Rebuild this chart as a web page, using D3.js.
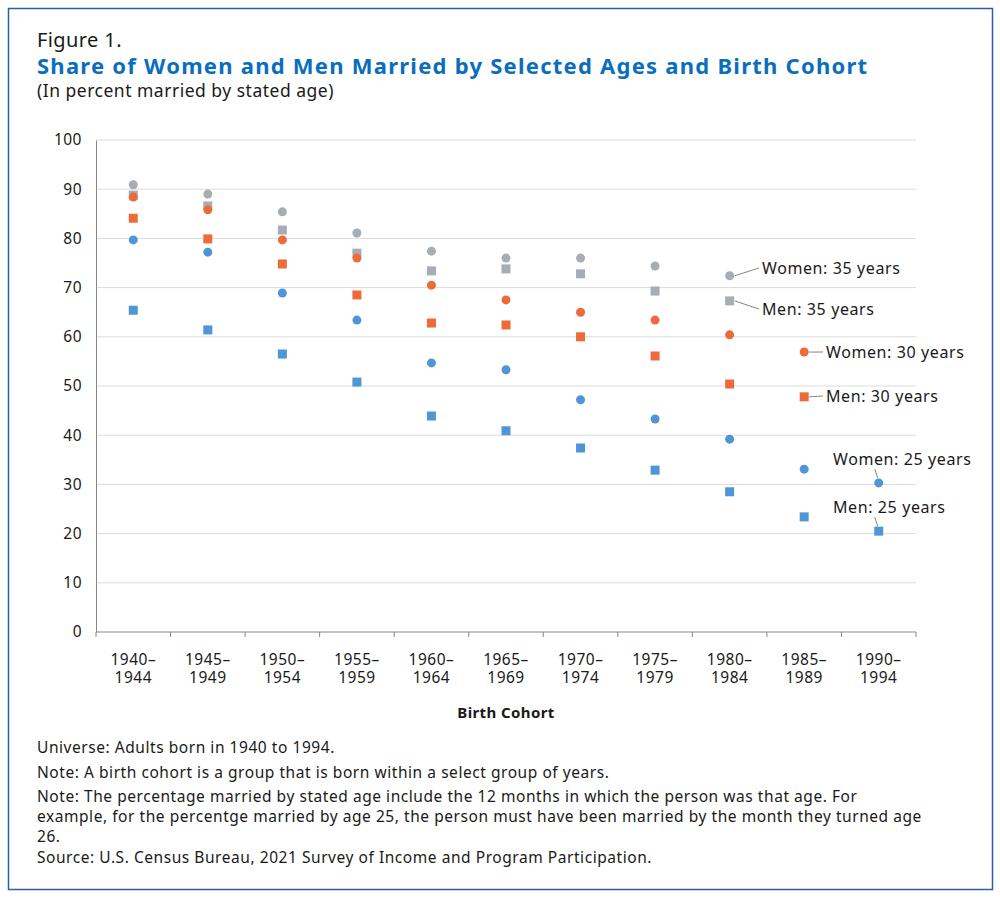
<!DOCTYPE html>
<html><head><meta charset="utf-8">
<script src="https://cdn.jsdelivr.net/npm/d3@7"></script>
<style>
body{margin:0;background:#fff;font-family:"Noto Sans",sans-serif;}
text{font-family:"Noto Sans",sans-serif;fill:#1a1a1a;}
</style></head>
<body><svg width="1000" height="898"></svg>
<script>
var cohorts = ["1940–1944","1945–1949","1950–1954","1955–1959","1960–1964","1965–1969","1970–1974","1975–1979","1980–1984","1985–1989","1990–1994"];
var women35 = [90.9,89.0,85.4,81.1,77.4,76.0,76.0,74.4,72.4];
var men35   = [88.8,86.6,81.7,77.0,73.4,73.8,72.8,69.3,67.3];
var women30 = [88.4,85.8,79.7,76.0,70.5,67.5,65.0,63.4,60.4,56.9];
var men30   = [84.1,79.9,74.8,68.5,62.8,62.4,60.0,56.1,50.4,47.8];
var women25 = [79.7,77.2,68.9,63.4,54.7,53.3,47.2,43.3,39.2,33.1,30.3];
var men25   = [65.4,61.4,56.5,50.8,43.9,40.9,37.4,32.9,28.5,23.4,20.5];
var yTicks = [0,10,20,30,40,50,60,70,80,90,100];

var series = [
  {name:"Women: 35 years", v:women35, shape:"circle", color:"#a6adb4", lx:762, ly:274, up:false},
  {name:"Men: 35 years", v:men35, shape:"square", color:"#a6adb4", lx:762, ly:315, up:false},
  {name:"Women: 30 years", v:women30, shape:"circle", color:"#ee6a3b", lx:826, ly:358, up:false},
  {name:"Men: 30 years", v:men30, shape:"square", color:"#ee6a3b", lx:826, ly:402, up:false},
  {name:"Women: 25 years", v:women25, shape:"circle", color:"#5096d6", lx:833, ly:465, up:true},
  {name:"Men: 25 years", v:men25, shape:"square", color:"#5096d6", lx:833, ly:513, up:true}
];

var svg = d3.select("svg");
svg.append("rect").attr("x",8.5).attr("y",8.5).attr("width",984).attr("height",881)
  .attr("fill","none").attr("stroke","#2d5f9e").attr("stroke-width",1.5);

svg.append("text").attr("x",37).attr("y",47).attr("font-size",20).attr("letter-spacing",0.4).text("Figure 1.");
svg.append("text").attr("x",37).attr("y",74).attr("font-size",22).attr("font-weight","bold")
  .attr("letter-spacing",1.25).style("fill","#0a6ebd").text("Share of Women and Men Married by Selected Ages and Birth Cohort");
svg.append("text").attr("x",37).attr("y",97).attr("font-size",17.5).attr("letter-spacing",0.5).text("(In percent married by stated age)");

var x = d3.scaleBand().domain(cohorts).range([96,916]);
var y = d3.scaleLinear().domain([0,100]).range([632,140]);

svg.append("g").selectAll("line").data(yTicks.slice(1)).enter().append("line")
  .attr("x1",96).attr("x2",916).attr("y1",d=>y(d)).attr("y2",d=>y(d))
  .attr("stroke","#dcdcdc");

var ya = svg.append("g").attr("transform","translate(96,0)")
  .call(d3.axisLeft(y).tickValues(yTicks).tickSize(0).tickPadding(14));
ya.select(".domain").attr("stroke","#888");
ya.selectAll("text").attr("font-size",15.5).attr("letter-spacing",0.5).style("fill","#1a1a1a");

var xa = svg.append("g").attr("transform","translate(0,632)");
xa.append("line").attr("x1",96).attr("x2",916).attr("stroke","#888");
xa.selectAll(".tk").data(cohorts.concat([null])).enter().append("line")
  .attr("x1",(d,i)=>96+i*x.step()).attr("x2",(d,i)=>96+i*x.step())
  .attr("y1",0).attr("y2",5).attr("stroke","#888");
var lab = xa.selectAll(".lb").data(cohorts).enter().append("text")
  .attr("text-anchor","middle").attr("font-size",15.5).attr("letter-spacing",0.5)
  .attr("transform",d=>"translate("+(x(d)+x.bandwidth()/2)+",0)");
lab.append("tspan").attr("x",0).attr("y",33).text(d=>d.split("–")[0]+"–");
lab.append("tspan").attr("x",0).attr("y",51).text(d=>d.split("–")[1]);
svg.append("text").attr("x",506).attr("y",718).attr("text-anchor","middle")
  .attr("font-size",15).attr("font-weight","bold").attr("letter-spacing",0.4).text("Birth Cohort");

series.forEach(function(s){
  var pts = s.v.map((v,i)=>({cx:x(cohorts[i])+x.bandwidth()/2, cy:y(v)}));
  var g = svg.append("g");
  if (s.shape=="circle") {
    g.selectAll("circle").data(pts).enter().append("circle")
      .attr("cx",d=>d.cx).attr("cy",d=>d.cy).attr("r",4.5).attr("fill",s.color);
  } else {
    g.selectAll("rect").data(pts).enter().append("rect")
      .attr("x",d=>d.cx-4.5).attr("y",d=>d.cy-4.5).attr("width",9).attr("height",9).attr("fill",s.color);
  }
  var last = pts[pts.length-1];
  if (s.up) {
    svg.append("line").attr("x1",last.cx-1).attr("y1",last.cy-5)
      .attr("x2",last.cx-4).attr("y2",last.cy-14).attr("stroke","#666").attr("stroke-width",0.8);
  } else {
    svg.append("line").attr("x1",last.cx+5).attr("y1",last.cy)
      .attr("x2",s.lx-3).attr("y2",s.ly-6).attr("stroke","#666").attr("stroke-width",0.8);
  }
  svg.append("text").attr("x",s.lx).attr("y",s.ly).attr("font-size",16).attr("letter-spacing",0.6).text(s.name);
});

var notes = ["Universe: Adults born in 1940 to 1994.",
 "Note: A birth cohort is a group that is born within a select group of years.",
 "Note: The percentage married by stated age include the 12 months in which the person was that age. For",
 "example, for the percentge married by age 25, the person must have been married by the month they turned age",
 "26.",
 "Source: U.S. Census Bureau, 2021 Survey of Income and Program Participation."];
var ny = [753,778,802,822,842,863];
svg.selectAll(".note").data(notes).enter().append("text")
  .attr("x",37).attr("y",(d,i)=>ny[i]).attr("font-size",15.5).attr("letter-spacing",0.55).text(d=>d);
</script></body></html>
